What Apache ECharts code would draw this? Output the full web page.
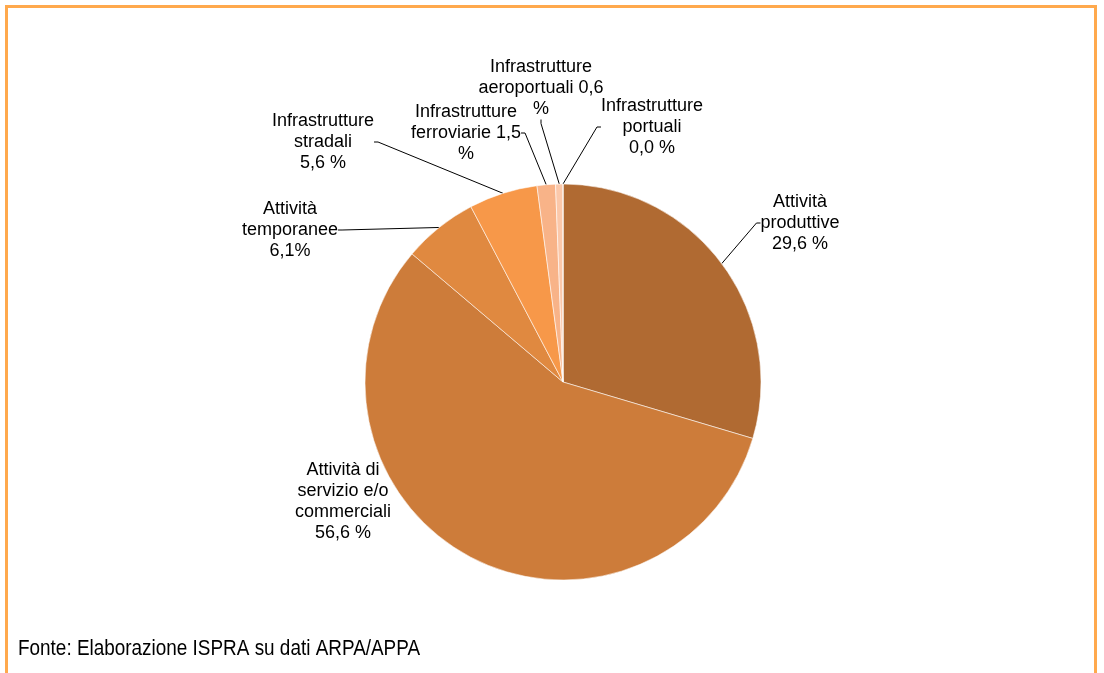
<!DOCTYPE html>
<html>
<head>
<meta charset="utf-8">
<script src="https://cdn.jsdelivr.net/npm/echarts@6/dist/echarts.min.js"></script>
<style>
html,body{margin:0;padding:0;background:#fff;}
#frame{position:absolute;left:5px;top:5px;width:1092px;height:700px;border:3px solid #FFA94D;box-sizing:border-box;}
#chart{position:absolute;left:0;top:0;width:1104px;height:673px;}
</style>
</head>
<body>
<div id="frame"></div>
<div id="chart"></div>
<script>
// Data
const categories = [
  'Attività produttive',
  'Attività di servizio e/o commerciali',
  'Attività temporanee',
  'Infrastrutture stradali',
  'Infrastrutture ferroviarie',
  'Infrastrutture aeroportuali',
  'Infrastrutture portuali'
];
const values = [29.6, 56.6, 6.1, 5.6, 1.5, 0.6, 0.0];
const labelTemplates = [
  'Attività\nproduttive\n{v} %',
  'Attività di\nservizio e/o\ncommerciali\n{v} %',
  'Attività\ntemporanee\n{v}%',
  'Infrastrutture\nstradali\n{v} %',
  'Infrastrutture\nferroviarie {v}\n%',
  'Infrastrutture\naeroportuali {v}\n%',
  'Infrastrutture\nportuali\n{v} %'
];
const colors = ['#B06A32', '#CD7C3A', '#E08940', '#F79849', '#F8B388', '#FBC8AA', '#FCD8C0'];
const footer = 'Fonte: Elaborazione ISPRA su dati ARPA/APPA';

// Label placement (centre of each text block, px)
const labelPos = [
  [800, 223], [343, 502], [290, 230], [323, 142], [466, 133], [541, 88], [652, 127]
];
const showLine = [true, false, true, true, true, true, true];

const fmt = v => v.toFixed(1).replace('.', ',');

const chart = echarts.init(document.getElementById('chart'), null, {renderer: 'canvas'});
chart.setOption({
  animation: false,
  backgroundColor: 'transparent',
  graphic: [{
    type: 'text',
    left: 18,
    top: 638,
    scaleX: 0.86,
    style: {text: footer, font: '22px "Liberation Sans", Arial', fill: '#000'}
  }],
  series: [{
    type: 'pie',
    center: [563, 382],
    radius: [0, 198],
    startAngle: 90,
    clockwise: true,
    avoidLabelOverlap: false,
    itemStyle: {borderColor: 'rgba(255,255,255,0.55)', borderWidth: 1},
    label: {
      show: true,
      position: 'outside',
      color: '#000',
      fontFamily: 'Liberation Sans, Arial',
      fontSize: 18,
      lineHeight: 21,
      align: 'center',
      formatter: p => labelTemplates[p.dataIndex].replace('{v}', fmt(values[p.dataIndex]))
    },
    labelLine: {show: true, length: 10, length2: 4, smooth: false, lineStyle: {color: '#000', width: 1}},
    labelLayout: p => ({
      x: labelPos[p.dataIndex][0],
      y: labelPos[p.dataIndex][1],
      align: 'center',
      verticalAlign: 'middle'
    }),
    emphasis: {disabled: true},
    data: categories.map((c, i) => ({
      name: c,
      value: values[i],
      itemStyle: {color: colors[i]},
      labelLine: {show: showLine[i]}
    }))
  }]
});
</script>
</body>
</html>
